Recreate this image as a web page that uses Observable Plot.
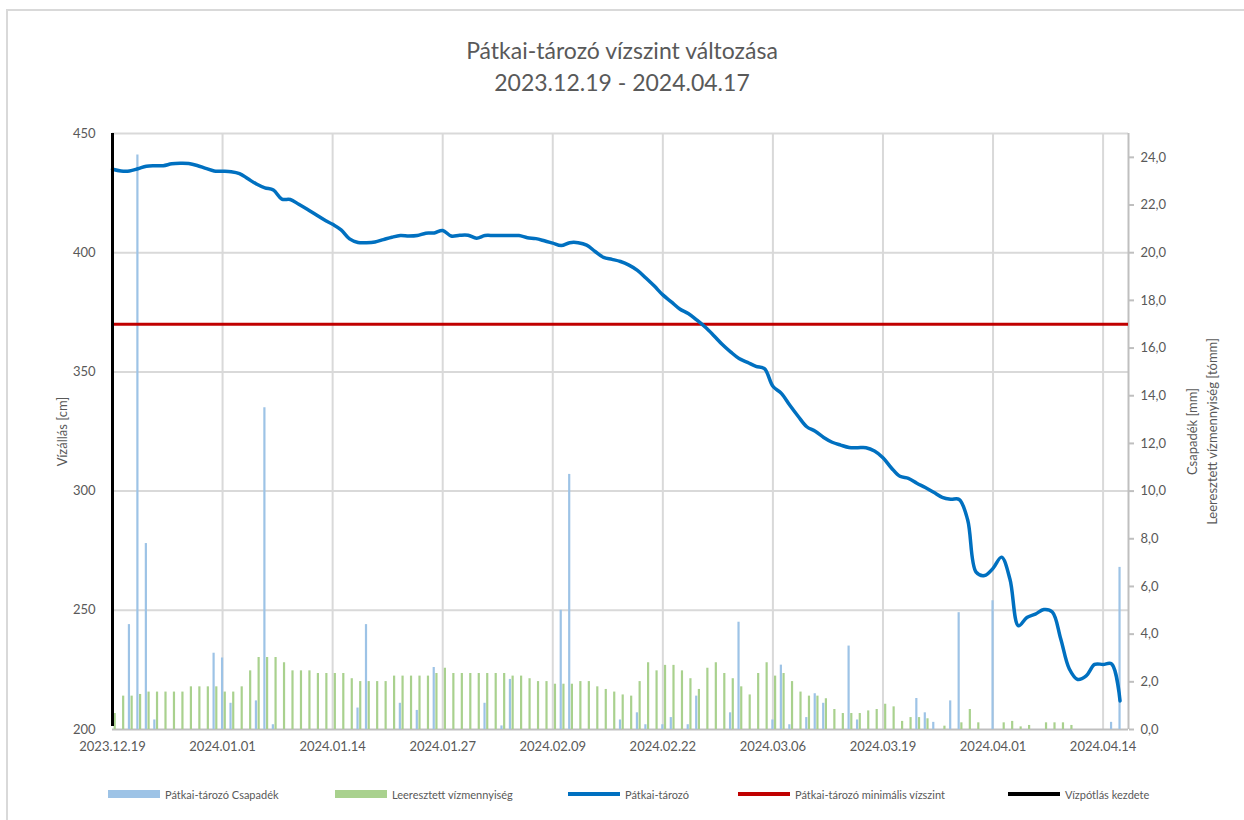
<!DOCTYPE html>
<html>
<head>
<meta charset="utf-8">
<script src="https://cdn.jsdelivr.net/npm/d3@7"></script>
<script src="https://cdn.jsdelivr.net/npm/@observablehq/plot@0.6"></script>
<style>
  html, body { margin: 0; padding: 0; background: #fff; overflow: hidden; }
  body { width: 1244px; height: 820px; position: relative; font-family: Lato, "Open Sans", sans-serif; color: #595959; }
  #frame { position: absolute; left: 6px; top: 9px; width: 1260px; height: 840px; border: 2px solid #d9d9d9; box-sizing: border-box; pointer-events: none; }
  #title { position: absolute; left: 0; top: 34px; width: 1244px; text-align: center; font-size: 23px; line-height: 32px; color: #595959; }
  #chart { position: absolute; left: 0; top: 100px; }
  #legend { position: absolute; left: 0; top: 786px; width: 1244px; height: 16px; font-size: 11px; color: #595959; }
  .item { position: absolute; top: 0; display: flex; align-items: center; height: 16px; white-space: nowrap; }
  .sw { display: inline-block; width: 52px; margin-right: 5px; }
</style>
</head>
<body>
<div id="frame"></div>
<div id="title">Pátkai-tározó vízszint változása<br>2023.12.19 - 2024.04.17</div>
<div id="chart"></div>
<div id="legend"></div>
<script>
// ---- data ----
const startDate = "2023-12-19";
const endDate = "2024-04-17";
const minLevel = 370; // Pátkai-tározó minimális vízszint [cm]

// Pátkai-tározó vízszint [cm], daily from 2023.12.19
const level = [
  435.0, 434.3, 434.3, 435.2, 436.3, 436.5, 436.5, 437.3, 437.5, 437.4,
  436.6, 435.4, 434.3, 434.2, 434.0, 433.2, 431.0, 428.8, 427.2, 426.3,
  422.5, 422.3, 420.3, 418.2, 416.0, 413.8, 411.9, 409.6, 405.8, 404.3,
  404.2, 404.5, 405.5, 406.5, 407.2, 407.0, 407.2, 408.2, 408.3, 409.3,
  407.0, 407.3, 407.3, 406.1, 407.2, 407.2, 407.2, 407.2, 407.2, 406.3,
  405.9, 405.0, 404.0, 403.0, 404.2, 404.2, 403.2, 400.5, 398.0, 397.2,
  396.3, 394.8, 392.6, 389.4, 386.0, 382.3, 379.4, 376.4, 374.5, 371.8,
  368.8, 365.3, 361.6, 358.4, 355.6, 354.0, 352.3, 351.4, 344.0, 341.0,
  336.0, 331.3, 327.0, 325.1, 322.5, 320.5, 319.3, 318.3, 318.2, 318.2,
  316.8, 314.0, 309.7, 306.2, 305.3, 303.3, 301.5, 299.5, 297.4, 296.6,
  296.5, 288.0, 266.0, 264.6, 267.6, 272.3, 263.0, 243.5, 247.0, 248.4,
  250.3, 249.3, 238.0, 225.5, 221.0, 222.5, 227.3, 227.3, 227.5, 212.0
];

// Pátkai-tározó Csapadék [mm], daily
const precip = [
  0, 0, 4.4, 24.1, 7.8, 0.4, 0, 0, 0, 0,
  0, 0, 3.2, 3.0, 1.1, 0, 0, 1.2, 13.5, 0.2,
  0, 0, 0, 0, 0, 0, 0, 0, 0, 0.9,
  4.4, 0, 0, 0, 1.1, 0, 0.8, 0, 2.6, 0,
  0, 0, 0, 0, 1.1, 0, 0.15, 2.1, 0, 0,
  0, 0, 0, 5.0, 10.7, 0, 0, 0, 0, 0,
  0.4, 0, 0.7, 0.2, 0, 0.2, 0.5, 0, 0.2, 1.4,
  0, 0, 0, 0.7, 4.5, 0, 0, 0, 0.4, 2.7,
  0.2, 0, 0.5, 1.5, 1.1, 0, 0, 3.5, 0.4, 0,
  0, 0, 0, 0, 0, 1.3, 0.7, 0.3, 0, 1.2,
  4.9, 0, 0, 0, 5.4, 0, 0, 0, 0, 0,
  0, 0, 0, 0, 0, 0, 0, 0, 0.3, 6.8
];

// Leeresztett vízmennyiség [tómm], daily
const release = [
  0.67, 1.4, 1.4, 1.47, 1.57, 1.57, 1.57, 1.57, 1.57, 1.79,
  1.79, 1.79, 1.79, 1.57, 1.57, 1.79, 2.46, 3.02, 3.02, 3.02,
  2.8, 2.46, 2.46, 2.46, 2.35, 2.35, 2.35, 2.35, 2.13, 2.01,
  2.01, 2.01, 2.01, 2.24, 2.24, 2.24, 2.24, 2.24, 2.35, 2.57,
  2.35, 2.35, 2.35, 2.35, 2.35, 2.35, 2.35, 2.24, 2.24, 2.13,
  2.01, 2.01, 1.9, 1.9, 1.9, 2.01, 2.01, 1.79, 1.68, 1.57,
  1.45, 1.4, 2.01, 2.8, 2.46, 2.69, 2.69, 2.46, 2.13, 1.68,
  2.57, 2.8, 2.35, 2.13, 1.79, 1.45, 2.35, 2.8, 2.24, 2.35,
  2.01, 1.57, 1.4, 1.4, 1.29, 0.84, 0.67, 0.67, 0.67, 0.78,
  0.84, 1.06, 0.95, 0.34, 0.5, 0.5, 0.45, 0, 0.14, 0,
  0.28, 0.84, 0.28, 0, 0, 0.28, 0.34, 0.11, 0.17, 0,
  0.28, 0.28, 0.28, 0.17, 0, 0, 0, 0, 0, 0
];

const xTickLabels = ["2023.12.19","2024.01.01","2024.01.14","2024.01.27","2024.02.09",
                     "2024.02.22","2024.03.06","2024.03.19","2024.04.01","2024.04.14"];
const leftTicks = [200, 250, 300, 350, 400, 450];
const rightTicks = [0, 2, 4, 6, 8, 10, 12, 14, 16, 18, 20, 22, 24];
const rightMax = 25;

const legendItems = [
  {label: "Pátkai-tározó Csapadék", color: "#9DC3E6", type: "bar", left: 108},
  {label: "Leeresztett vízmennyiség", color: "#A9D18E", type: "bar", left: 335},
  {label: "Pátkai-tározó", color: "#0070C0", type: "line", left: 568},
  {label: "Pátkai-tározó minimális vízszint", color: "#C00000", type: "line", left: 738},
  {label: "Vízpótlás kezdete", color: "#000000", type: "line", left: 1008}
];

// ---- build ----
const parse = d3.utcParse("%Y-%m-%d");
const t0 = parse(startDate), t1 = parse(endDate);
const rows = level.map((v, i) => ({
  date: d3.utcDay.offset(t0, i), level: v, precip: precip[i], release: release[i]
}));
const xTicks = xTickLabels.map(s => d3.utcParse("%Y.%m.%d")(s));

// right-axis values mapped onto the left-axis domain
const [yMin, yMax] = [leftTicks[0], leftTicks[leftTicks.length - 1]];
const toLeft = d3.scaleLinear([0, rightMax], [yMin, yMax]);

const grid = "#d9d9d9";
const axisCol = "#bfbfbf";

const chart = Plot.plot({
  width: 1244,
  height: 670,
  marginTop: 33,
  marginBottom: 41,
  marginLeft: 112,
  marginRight: 116,
  style: {fontFamily: "Lato, 'Open Sans', sans-serif", fontSize: "13px", color: "#595959", background: "transparent"},
  x: {type: "utc", domain: [t0, t1]},
  y: {domain: [yMin, yMax]},
  marks: [
    Plot.gridY(leftTicks.slice(1), {stroke: grid, strokeOpacity: 1, strokeWidth: 2}),
    Plot.gridX(xTicks.slice(1), {stroke: grid, strokeOpacity: 1, strokeWidth: 2}),
    Plot.ruleX([t1], {stroke: axisCol, strokeWidth: 2}),
    Plot.ruleY([yMin], {stroke: axisCol, strokeWidth: 2}),
    Plot.ruleX(rows.filter(d => d.precip > 0), {
      x: "date", y1: yMin, y2: d => toLeft(d.precip), stroke: "#9DC3E6", strokeWidth: 2.2, dx: -0.5
    }),
    Plot.ruleX(rows.filter(d => d.release > 0), {
      x: "date", y1: yMin, y2: d => toLeft(d.release), stroke: "#A9D18E", strokeWidth: 2.2, dx: 2.2
    }),
    Plot.ruleY([minLevel], {stroke: "#C00000", strokeWidth: 3}),
    Plot.line(rows, {x: "date", y: "level", stroke: "#0070C0", strokeWidth: 3.5, curve: "catmull-rom"}),
    Plot.ruleX([t0], {y1: yMin, y2: yMax, stroke: "#000", strokeWidth: 3, insetTop: -3}),
    Plot.axisX(xTicks, {tickSize: 0, tickPadding: 12, tickFormat: d3.utcFormat("%Y.%m.%d"), label: null, fontSize: 13}),
    Plot.axisY(leftTicks, {anchor: "left", tickSize: 0, tickPadding: 17, label: null, fontSize: 13}),
    Plot.axisY(rightTicks.map(v => toLeft(v)), {
      anchor: "right", tickSize: 5, tickPadding: 7, label: null, stroke: axisCol, strokeWidth: 2,
      tickFormat: d => toLeft.invert(d).toFixed(1).replace(".", ","), fontSize: 13
    }),
    Plot.text(["Vízállás [cm]"], {frameAnchor: "left", dx: -50, rotate: -90, textAnchor: "middle", fontSize: 13, fill: "#595959"}),
    Plot.text(["Csapadék [mm]"], {frameAnchor: "right", dx: 64, rotate: -90, textAnchor: "middle", fontSize: 13, fill: "#595959"}),
    Plot.text(["Leeresztett vízmennyiség [tómm]"], {frameAnchor: "right", dx: 84, rotate: -90, textAnchor: "middle", fontSize: 13, fill: "#595959"})
  ]
});
document.getElementById("chart").appendChild(chart);

const legend = document.getElementById("legend");
for (const it of legendItems) {
  const div = document.createElement("div");
  div.className = "item";
  div.style.left = it.left + "px";
  const sw = document.createElement("span");
  sw.className = "sw";
  sw.style.background = it.color;
  sw.style.height = it.type === "bar" ? "8px" : "4px";
  div.appendChild(sw);
  div.appendChild(document.createTextNode(it.label));
  legend.appendChild(div);
}
</script>
</body>
</html>
